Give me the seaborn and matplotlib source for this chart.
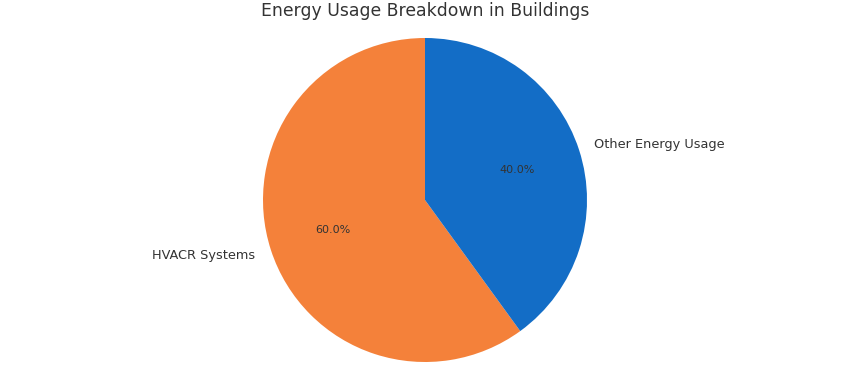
import matplotlib
matplotlib.use("Agg")
import matplotlib.pyplot as plt
import seaborn as sns

# -----------------------------
# Data
# -----------------------------
labels = ["HVACR Systems", "Other Energy Usage"]
shares = [60, 40]
colors = ["#F4813A", "#136DC6"]

sns.set_theme(style="white")
plt.rcParams['font.family'] = ['DejaVu Sans']
plt.rcParams['text.color'] = '#333333'

fig = plt.figure(figsize=(8.5, 3.7), dpi=100)
ax = fig.add_axes([0, 8 / 370, 1, 324 / 370])

wedges, texts, autotexts = ax.pie(
    shares,
    labels=labels,
    colors=colors,
    autopct='%1.1f%%',
    startangle=90,
    wedgeprops={'linewidth': 0},
    textprops={'fontsize': 9.3, 'color': '#333333'},
)
for t in autotexts:
    t.set_fontsize(8)

ax.set_aspect('equal', adjustable='datalim')
ax.set_ylim(-1, 1)
ax.set_xlim(-1, 1)
ax.set_title("Energy Usage Breakdown in Buildings", fontsize=12.4, color='#333333', pad=16)

fig.savefig("out.png", dpi=100)
